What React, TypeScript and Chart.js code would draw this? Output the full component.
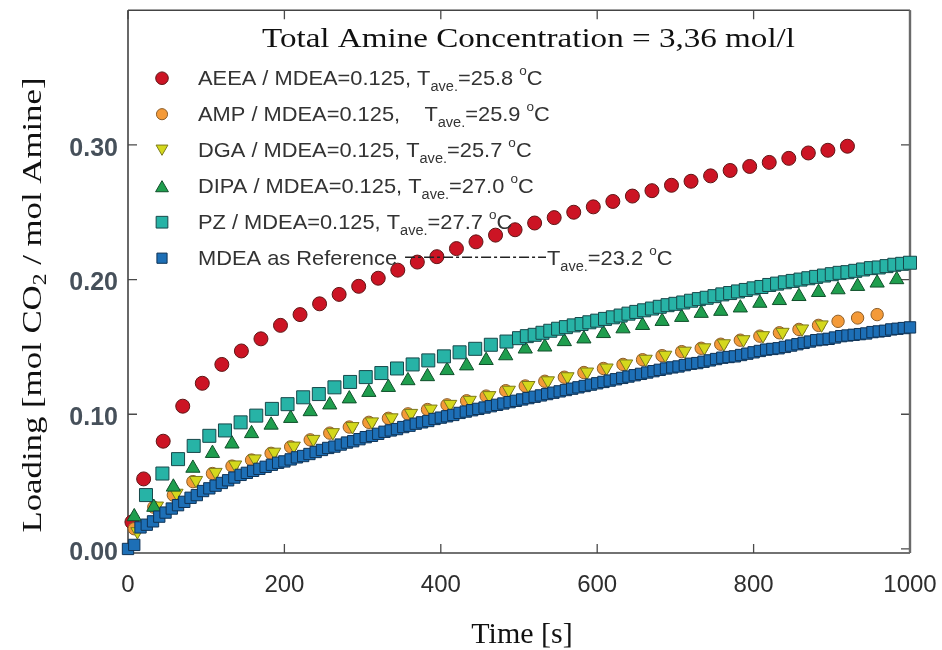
import React, { useEffect, useRef } from "react";
import { Chart, registerables } from "chart.js";

Chart.register(...registerables);

// ---------- data ----------
const aeeaT = [5, 20, 45, 70, 95, 120, 145, 170, 195, 220, 245, 270, 295, 320, 345, 370, 395, 420, 445, 470, 495, 520, 545, 570, 595, 620, 645, 670, 695, 720, 745, 770, 795, 820, 845, 870, 895, 920];
const aeeaV = [0.02, 0.052, 0.08, 0.106, 0.123, 0.137, 0.147, 0.156, 0.166, 0.174, 0.182, 0.189, 0.195, 0.201, 0.207, 0.213, 0.217, 0.223, 0.228, 0.233, 0.237, 0.242, 0.246, 0.25, 0.254, 0.258, 0.262, 0.266, 0.27, 0.273, 0.277, 0.281, 0.284, 0.287, 0.29, 0.294, 0.296, 0.299];

const ampT = [8, 33, 58, 83, 108, 133, 158, 183, 208, 233, 258, 283, 308, 333, 358, 383, 408, 433, 458, 483, 508, 533, 558, 583, 608, 633, 658, 683, 708, 733, 758, 783, 808, 833, 858, 883, 908, 933, 958];
const ampV = [0.015, 0.031, 0.04, 0.05, 0.056, 0.0615, 0.066, 0.071, 0.0758, 0.081, 0.086, 0.0905, 0.094, 0.097, 0.1003, 0.1035, 0.107, 0.11, 0.1135, 0.1175, 0.121, 0.1245, 0.1275, 0.131, 0.134, 0.137, 0.1405, 0.1435, 0.1465, 0.149, 0.152, 0.155, 0.158, 0.1605, 0.163, 0.166, 0.169, 0.1715, 0.174];

const dgaT = [12, 37, 62, 87, 112, 137, 162, 187, 212, 237, 262, 287, 312, 337, 362, 387, 412, 437, 462, 487, 512, 537, 562, 587, 612, 637, 662, 687, 712, 737, 762, 787, 812, 837, 862, 887];
const dgaV = [0.013, 0.032, 0.0415, 0.051, 0.057, 0.0625, 0.067, 0.072, 0.0765, 0.0815, 0.0865, 0.091, 0.0945, 0.0975, 0.1008, 0.104, 0.1075, 0.1105, 0.114, 0.118, 0.1215, 0.125, 0.128, 0.1315, 0.1345, 0.1375, 0.141, 0.144, 0.147, 0.1495, 0.1525, 0.1555, 0.1585, 0.161, 0.1635, 0.1665];

const dipaT = [8, 33, 58, 83, 108, 133, 158, 183, 208, 233, 258, 283, 308, 333, 358, 383, 408, 433, 458, 483, 508, 533, 558, 583, 608, 633, 658, 683, 708, 733, 758, 783, 808, 833, 858, 883, 908, 933, 958, 983];
const dipaV = [0.024, 0.031, 0.046, 0.06, 0.071, 0.078, 0.0857, 0.092, 0.097, 0.102, 0.107, 0.1115, 0.1163, 0.12, 0.125, 0.128, 0.1325, 0.136, 0.14, 0.1435, 0.1485, 0.15, 0.154, 0.156, 0.16, 0.1635, 0.166, 0.169, 0.172, 0.175, 0.1765, 0.179, 0.1825, 0.1845, 0.1875, 0.1905, 0.1925, 0.195, 0.1975, 0.2];

const pzT = [23, 44, 64, 84, 104, 124, 144, 164, 184, 204, 224, 244, 264, 284, 304, 324, 344, 364, 384, 404, 424, 444, 464, 484,
  500, 510, 520, 530, 540, 550, 560, 570, 580, 590, 600, 610, 620, 630, 640, 650, 660, 670, 680, 690, 700, 710, 720, 730, 740, 750,
  760, 770, 780, 790, 800, 810, 820, 830, 840, 850, 860, 870, 880, 890, 900, 910, 920, 930, 940, 950, 960, 970, 980, 990, 1000];
const pzV = [0.04, 0.056, 0.0667, 0.0765, 0.084, 0.088, 0.094, 0.099, 0.104, 0.1075, 0.1126, 0.115, 0.12, 0.124, 0.1276, 0.1306, 0.134, 0.137, 0.14, 0.143, 0.146, 0.1486, 0.1516, 0.154,
  0.1565, 0.158, 0.159, 0.1605, 0.162, 0.1635, 0.1647, 0.166, 0.167, 0.1683, 0.1695, 0.1708, 0.172, 0.1733, 0.1747, 0.176, 0.1772, 0.1785, 0.1798, 0.181, 0.182, 0.183, 0.1843, 0.1855, 0.1865, 0.1877,
  0.189, 0.19, 0.1912, 0.1923, 0.1935, 0.1945, 0.196, 0.197, 0.198, 0.199, 0.2, 0.201, 0.202, 0.203, 0.204, 0.205, 0.2055, 0.2065, 0.2075, 0.2085, 0.209, 0.21, 0.211, 0.2117, 0.2125];

const mdeaT = [0, 8, 16, 24, 32, 40, 48, 56, 64, 72, 80, 88, 96, 104, 112, 120, 128, 136, 144, 152, 160, 168, 176, 184, 192, 200, 208, 216, 224, 232, 240, 248, 256, 264, 272, 280, 288, 296, 304, 312, 320, 328, 336, 344, 352, 360, 368, 376, 384, 392, 400, 408, 416, 424, 432, 440, 448, 456, 464, 472, 480, 488, 496, 504, 512, 520, 528, 536, 544, 552, 560, 568, 576, 584, 592, 600, 608, 616, 624, 632, 640, 648, 656, 664, 672, 680, 688, 696, 704, 712, 720, 728, 736, 744, 752, 760, 768, 776, 784, 792, 800, 808, 816, 824, 832, 840, 848, 856, 864, 872, 880, 888, 896, 904, 912, 920, 928, 936, 944, 952, 960, 968, 976, 984, 992, 1000];
const mdeaV = [0.0, 0.003, 0.016, 0.018, 0.0205, 0.024, 0.027, 0.03, 0.0325, 0.035,
  0.038, 0.04, 0.043, 0.045, 0.047, 0.049, 0.051, 0.053, 0.055, 0.0565,
  0.058, 0.0595, 0.061, 0.0625, 0.064, 0.065, 0.0665, 0.068, 0.069, 0.0705,
  0.072, 0.0735, 0.075, 0.076, 0.0775, 0.079, 0.08, 0.0815, 0.083, 0.084,
  0.0855, 0.087, 0.088, 0.089, 0.0905, 0.0915, 0.093, 0.094, 0.095, 0.0965,
  0.0975, 0.0985, 0.0995, 0.101, 0.102, 0.103, 0.104, 0.105, 0.106, 0.107,
  0.108, 0.109, 0.11, 0.111, 0.112, 0.113, 0.114, 0.115, 0.116, 0.117,
  0.118, 0.119, 0.12, 0.121, 0.122, 0.123, 0.124, 0.125, 0.126, 0.127,
  0.128, 0.129, 0.13, 0.131, 0.132, 0.133, 0.134, 0.1348, 0.1355, 0.1365,
  0.1375, 0.138, 0.139, 0.14, 0.141, 0.142, 0.1425, 0.143, 0.144, 0.145,
  0.146, 0.147, 0.148, 0.1485, 0.149, 0.15, 0.151, 0.152, 0.153, 0.154,
  0.155, 0.1555, 0.156, 0.157, 0.158, 0.1585, 0.159, 0.1595, 0.16, 0.161,
  0.1615, 0.162, 0.163, 0.1635, 0.164, 0.1645];

const xMajorLabels = [0, 200, 400, 600, 800, 1000];
const yMajorLabels = ["0.00", "0.10", "0.20", "0.30"];

const titleText = "Total Amine Concentration = 3,36 mol/l";
const legendNames = ["AEEA / MDEA=0.125, ", "AMP / MDEA=0.125,    ", "DGA / MDEA=0.125, ", "DIPA / MDEA=0.125, ", "PZ / MDEA=0.125, ", "MDEA as Reference"];
const legendTemps = ["=25.8 ", "=25.9 ", "=25.7 ", "=27.0 ", "=27.7 ", "=23.2 "];

// ---------- styles ----------
const SANS = '"Liberation Sans", Arial, sans-serif';
const SERIF = '"Liberation Serif", "Times New Roman", serif';

type Sty = { style: string; r: number; fill: string; stroke: string; rot: number };
const styles: Sty[] = [
  { style: "circle", r: 7, fill: "#cc1424", stroke: "#5e1616", rot: 0 },
  { style: "circle", r: 6.2, fill: "#f49a38", stroke: "#8c5e2a", rot: 0 },
  { style: "triangle", r: 7.6, fill: "#d4d81c", stroke: "#7c7a1a", rot: 180 },
  { style: "triangle", r: 8.2, fill: "#1f9e4e", stroke: "#0f4f2a", rot: 0 },
  { style: "rect", r: 9.2, fill: "#27b3a6", stroke: "#17484a", rot: 0 },
  { style: "rect", r: 8, fill: "#1d6fb6", stroke: "#0f3356", rot: 0 },
];

function pts(t: number[], v: number[]) {
  return t.map((x, i) => ({ x, y: v[i] }));
}

function drawMarker(ctx: CanvasRenderingContext2D, s: Sty, x: number, y: number, scale: number) {
  const r = s.r * scale;
  ctx.beginPath();
  if (s.style === "circle") {
    ctx.arc(x, y, r, 0, Math.PI * 2);
  } else if (s.style === "rect") {
    const h = r * Math.SQRT1_2;
    ctx.rect(x - h, y - h, 2 * h, 2 * h);
  } else {
    const rot = (s.rot * Math.PI) / 180;
    for (let k = 0; k < 3; k++) {
      const a = rot - Math.PI / 2 + (k * 2 * Math.PI) / 3;
      const px = x + Math.cos(a) * r;
      const py = y + Math.sin(a) * r + (s.rot ? -r * 0.25 : r * 0.25);
      if (k === 0) ctx.moveTo(px, py);
      else ctx.lineTo(px, py);
    }
    ctx.closePath();
  }
  ctx.fillStyle = s.fill;
  ctx.fill();
  ctx.strokeStyle = s.stroke;
  ctx.lineWidth = 1;
  ctx.stroke();
}

type Seg = { t: string; size: number; dy?: number };
function drawRich(ctx: CanvasRenderingContext2D, x: number, y: number, segs: Seg[], sx: number) {
  ctx.save();
  ctx.translate(x, y);
  ctx.scale(sx, 1);
  let cx = 0;
  for (const s of segs) {
    ctx.font = `${s.size}px ${SANS}`;
    ctx.fillText(s.t, cx, s.dy || 0);
    cx += ctx.measureText(s.t).width;
  }
  ctx.restore();
  return x + cx * sx;
}

function tempSegs(temp: string): Seg[] {
  return [
    { t: "T", size: 21 },
    { t: "ave.", size: 14, dy: 6 },
    { t: temp, size: 21 },
    { t: "o", size: 13, dy: -10 },
    { t: "C", size: 21 },
  ];
}

const framePlugin = {
  id: "frame",
  beforeDatasetsDraw(chart: any) {
    const { ctx, chartArea: a } = chart;
    const xs = chart.scales.x;
    const ys = chart.scales.y;
    ctx.save();
    ctx.strokeStyle = "#4a4a4a";
    ctx.lineWidth = 1.3;
    ctx.beginPath();
    for (const tk of xs.ticks) {
      const p = xs.getPixelForValue(tk.value);
      const L = tk.label ? 9 : 6;
      ctx.moveTo(p, a.bottom);
      ctx.lineTo(p, a.bottom - L);
      ctx.moveTo(p, a.top);
      ctx.lineTo(p, a.top + L);
    }
    for (const tk of ys.ticks) {
      const p = ys.getPixelForValue(tk.value);
      const L = tk.label ? 9 : 6;
      ctx.moveTo(a.left, p);
      ctx.lineTo(a.left + L, p);
      ctx.moveTo(a.right, p);
      ctx.lineTo(a.right - L, p);
    }
    ctx.stroke();
    ctx.lineWidth = 1.6;
    ctx.strokeStyle = "#444";
    ctx.beginPath();
    ctx.moveTo(a.left, a.top);
    ctx.lineTo(a.left, a.bottom);
    ctx.lineTo(a.right, a.bottom);
    ctx.moveTo(a.left, a.top);
    ctx.lineTo(a.right, a.top);
    ctx.stroke();
    ctx.lineWidth = 2.4;
    ctx.strokeStyle = "#6a6a6a";
    ctx.beginPath();
    ctx.moveTo(a.right, a.top);
    ctx.lineTo(a.right, a.bottom);
    ctx.stroke();
    ctx.restore();
  },
};

const textPlugin = {
  id: "texts",
  afterDraw(chart: any) {
    const { ctx, chartArea: a } = chart;
    ctx.save();
    ctx.textBaseline = "alphabetic";
    ctx.textAlign = "left";
    ctx.fillStyle = "#111";

    // title, stretched horizontally
    ctx.font = `28px ${SERIF}`;
    const tw = ctx.measureText(titleText).width;
    const targetW = 533;
    ctx.save();
    ctx.translate(a.left + 134, a.top + 37);
    ctx.scale(targetW / tw, 1);
    ctx.fillText(titleText, 0, 0);
    ctx.restore();

    // legend
    const mx = a.left + 34;
    const tx = a.left + 70;
    const SX = 1.04;
    for (let i = 0; i < 6; i++) {
      const base = a.top + 75 + i * 36;
      drawMarker(ctx, styles[i], mx, base - 7, 0.9);
      ctx.fillStyle = "#333";
      if (i < 5) {
        const end = drawRich(ctx, tx, base, [{ t: legendNames[i], size: 21 }], SX);
        drawRich(ctx, end, base, tempSegs(legendTemps[i]), SX);
      } else {
        const end = drawRich(ctx, tx, base, [{ t: legendNames[i], size: 21 }], SX);
        const lineEnd = a.left + 418;
        ctx.save();
        ctx.strokeStyle = "#222";
        ctx.lineWidth = 1.4;
        ctx.setLineDash([10, 3, 3, 3]);
        ctx.beginPath();
        ctx.moveTo(end + 8, base - 8);
        ctx.lineTo(lineEnd, base - 8);
        ctx.stroke();
        ctx.restore();
        ctx.fillStyle = "#333";
        drawRich(ctx, lineEnd + 1, base, tempSegs(legendTemps[i]), SX);
      }
    }

    // x title
    ctx.fillStyle = "#111";
    ctx.font = `30px ${SERIF}`;
    ctx.textAlign = "center";
    ctx.fillText("Time [s]", 522, 643);

    // y title rotated, stretched along its length
    ctx.textAlign = "left";
    const parts: Seg[] = [
      { t: "Loading [mol CO", size: 28 },
      { t: "2", size: 19, dy: 5 },
      { t: " / mol Amine]", size: 28 },
    ];
    let len = 0;
    for (const p of parts) {
      ctx.font = `${p.size}px ${SERIF}`;
      len += ctx.measureText(p.t).width;
    }
    const targetL = 455;
    const s = targetL / len;
    ctx.save();
    ctx.translate(41, 305 + targetL / 2);
    ctx.rotate(-Math.PI / 2);
    ctx.scale(s, 1);
    let cx = 0;
    for (const p of parts) {
      ctx.font = `${p.size}px ${SERIF}`;
      ctx.fillText(p.t, cx, p.dy || 0);
      cx += ctx.measureText(p.t).width;
    }
    ctx.restore();
    ctx.restore();
  },
};

export default function App() {
  const ref = useRef<HTMLCanvasElement | null>(null);

  useEffect(() => {
    if (!ref.current) return;
    const series = [
      { label: "AEEA", t: aeeaT, v: aeeaV },
      { label: "AMP", t: ampT, v: ampV },
      { label: "DGA", t: dgaT, v: dgaV },
      { label: "DIPA", t: dipaT, v: dipaV },
      { label: "PZ", t: pzT, v: pzV },
      { label: "MDEA", t: mdeaT, v: mdeaV },
    ];
    const datasets = series.map((s, i) => ({
      label: s.label,
      data: pts(s.t, s.v),
      showLine: false,
      pointStyle: styles[i].style,
      pointRadius: styles[i].r,
      pointHoverRadius: styles[i].r,
      pointBackgroundColor: styles[i].fill,
      pointBorderColor: styles[i].stroke,
      pointBorderWidth: 1,
      pointRotation: styles[i].rot,
      clip: false,
      order: 6 - i,
    }));

    const chart = new Chart(ref.current, {
      type: "scatter",
      data: { datasets } as any,
      options: {
        animation: false,
        responsive: false,
        events: [],
        layout: { padding: { left: 0, right: 32, top: 9, bottom: 0 } },
        plugins: { legend: { display: false }, tooltip: { enabled: false }, title: { display: false } },
        scales: {
          x: {
            type: "linear",
            min: 0,
            max: 1000,
            afterFit: (sc: any) => {
              sc.height = 97;
              sc.paddingLeft = 0;
              sc.paddingRight = 0;
            },
            grid: { display: false, drawTicks: false },
            border: { display: false },
            ticks: {
              stepSize: 40,
              autoSkip: false,
              maxRotation: 0,
              includeBounds: false,
              padding: 18,
              color: "#2e2e2e",
              font: { family: SANS, size: 24 },
              callback: (v: any) => (xMajorLabels.includes(Math.round(v)) && Math.abs(v - Math.round(v)) < 1e-6 ? String(Math.round(v)) : null),
            },
          },
          y: {
            type: "linear",
            min: -0.003,
            max: 0.4,
            afterFit: (sc: any) => {
              sc.width = 128;
              sc.paddingTop = 0;
              sc.paddingBottom = 0;
            },
            grid: { display: false, drawTicks: false },
            border: { display: false },
            ticks: {
              stepSize: 0.02,
              autoSkip: false,
              includeBounds: false,
              padding: 10,
              labelOffset: 4,
              color: "#46505a",
              font: { family: SANS, size: 25, weight: "bold" },
              callback: (v: any) => {
                const k = Math.round(v * 100);
                if (Math.abs(v * 100 - k) > 1e-6) return null;
                const lbl = (k / 100).toFixed(2);
                return yMajorLabels.includes(lbl) ? lbl : null;
              },
            },
          },
        },
      } as any,
      plugins: [framePlugin, textPlugin],
    });
    return () => chart.destroy();
  }, []);

  return (
    <div style={{ position: "absolute", left: 0, top: 0, width: 942, height: 650, background: "#fff" }}>
      <canvas ref={ref} width={942} height={650} style={{ display: "block" }} />
    </div>
  );
}
